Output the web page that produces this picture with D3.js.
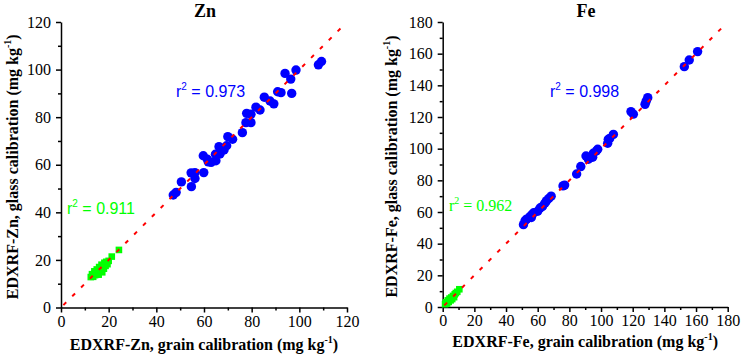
<!DOCTYPE html>
<html>
<head>
<meta charset="UTF-8">
<script src="https://d3js.org/d3.v7.min.js"></script>
<style>
  body { margin: 0; background: #fff; }
  .tick line, .domain { stroke: #000; stroke-width: 1.5; }
</style>
</head>
<body>
<svg id="chart" width="743" height="358"></svg>
<script>
// Zn: grain calibration (x) vs glass calibration (y), mg/kg
const znBlue = [
  [47.1,47.3],[48.3,48.4],[50.5,52.8],[54.7,50.8],[54.6,56.6],[56.2,56.7],[56.2,54.2],
  [59.9,56.7],[59.7,63.8],[61.4,62.3],[61.8,61.2],[63.0,61.0],[65.0,61.7],[64.8,64.4],
  [66.7,64.5],[68.4,66.2],[66.3,67.6],[69.5,68.0],[70.0,71.8],[72.0,70.7],[76.1,73.5],
  [77.6,77.7],[79.7,77.7],[77.9,81.6],[79.7,81.2],[81.8,84.2],[83.5,83.0],[85.3,88.4],
  [87.7,86.8],[89.3,85.6],[90.9,90.7],[92.3,90.3],[94.0,98.4],[96.4,96.0],[96.8,90.0],
  [98.6,99.8],[108.0,102.0],[109.3,103.4]
];
const znGreen = [
  [12.5,12.8],[13.0,14.0],[13.5,12.9],[14.0,15.2],[14.3,13.6],[14.8,14.5],[15.0,16.0],
  [15.5,15.0],[15.8,13.8],[16.0,17.0],[16.3,15.7],[16.8,16.5],[17.0,18.0],[17.3,14.8],
  [17.6,17.0],[18.0,16.3],[18.2,18.8],[18.7,17.5],[19.0,19.2],[19.5,18.2],[20.0,19.6],
  [21.3,21.4],[24.3,24.2]
];
// Fe
const feBlue = [
  [51.0,52.0],[52.0,54.5],[53.0,55.5],[55.0,57.0],[56.5,58.5],[57.5,59.5],[56.0,56.5],
  [60.0,60.5],[61.5,62.5],[63.0,63.5],[64.5,65.5],[65.5,67.0],[67.0,68.5],[68.5,70.0],
  [76.0,76.5],[77.0,77.0],[84.6,84.0],[87.2,88.7],[90.5,95.4],[92.0,93.3],[93.0,94.5],
  [94.7,94.6],[95.1,97.1],[97.0,98.5],[97.9,99.6],[104.2,103.4],[104.6,105.9],[105.5,106.5],
  [107.8,109.0],[118.9,123.4],[120.4,121.8],[127.8,128.0],[128.5,130.0],[129.5,132.2],
  [152.6,151.8],[155.7,156.0],[161.0,161.3]
];
const feGreen = [
  [1.5,1.8],[2.0,3.0],[2.8,2.2],[3.2,4.2],[3.8,3.2],[4.3,5.3],[5.0,4.2],[5.4,6.0],
  [6.0,5.0],[6.5,7.0],[7.2,6.2],[7.6,8.0],[8.3,8.8],[9.2,9.6],[10.5,11.2]
];

const znTicks = [0, 20, 40, 60, 80, 100, 120];
const feTicks = [0, 20, 40, 60, 80, 100, 120, 140, 160, 180];

const znR2 = ["0.973", "0.911"];
const feR2 = ["0.998", "0.962"];

const SERIF = "'Liberation Serif', 'Times New Roman', Times, serif";
const SANS = "'Liberation Sans', Arial, Helvetica, sans-serif";

const panels = [
  { name: "Zn", blue: znBlue, green: znGreen, ticks: znTicks, r2: znR2, lineEnd: 118,
    xr: [61, 347], yr: [307.5, 22], titleX: 205, xlabY: 350, ylabX: 18,
    r2Blue: [176, 97, SANS], r2Green: [67, 214, SANS] },
  { name: "Fe", blue: feBlue, green: feGreen, ticks: feTicks, r2: feR2, lineEnd: 177,
    xr: [442.7, 727.7], yr: [307, 22], titleX: 586, xlabY: 347, ylabX: 397,
    r2Blue: [550, 97, SANS], r2Green: [449, 211, SERIF] }
];

const svg = d3.select("#chart");

panels.forEach(p => {
  const max = p.ticks[p.ticks.length - 1];
  const x = d3.scaleLinear().domain([0, max]).range(p.xr);
  const y = d3.scaleLinear().domain([0, max]).range(p.yr);
  const minor = d3.range(10, max, 20);
  const g = svg.append("g");

  // minor ticks
  g.append("g").attr("transform", `translate(0,${y(0)})`)
    .call(d3.axisBottom(x).tickValues(minor).tickSize(3).tickFormat(""))
    .call(a => a.select(".domain").remove());
  g.append("g").attr("transform", `translate(${x(0)},0)`)
    .call(d3.axisLeft(y).tickValues(minor).tickSize(3).tickFormat(""))
    .call(a => a.select(".domain").remove());

  // major axes
  const ax = g.append("g").attr("transform", `translate(0,${y(0)})`)
    .call(d3.axisBottom(x).tickValues(p.ticks).tickSize(5).tickPadding(3).tickSizeOuter(0));
  const ay = g.append("g").attr("transform", `translate(${x(0)},0)`)
    .call(d3.axisLeft(y).tickValues(p.ticks).tickSize(5).tickPadding(5).tickSizeOuter(0));
  [ax, ay].forEach(a => a.attr("font-family", null).attr("font-size", null)
    .selectAll("text").style("font-family", SERIF).style("font-size", "16px").attr("fill", "#000"));

  // green squares (low concentration samples)
  const s = 6.6;
  g.append("g").selectAll("rect").data(p.green).join("rect")
    .attr("x", d => x(d[0]) - s / 2)
    .attr("y", d => y(d[1]) - s / 2)
    .attr("width", s).attr("height", s)
    .attr("fill", "#00ff00");

  // blue circles
  g.append("g").selectAll("circle").data(p.blue).join("circle")
    .attr("cx", d => x(d[0]))
    .attr("cy", d => y(d[1]))
    .attr("r", 4.7)
    .attr("fill", "#0000ff");

  // 1:1 line
  g.append("line")
    .attr("x1", x(1)).attr("y1", y(1))
    .attr("x2", x(p.lineEnd)).attr("y2", y(p.lineEnd))
    .attr("stroke", "#ff0000").attr("stroke-width", 2)
    .attr("stroke-dasharray", "4,8.5");

  // title
  g.append("text")
    .style("font-family", SERIF).style("font-weight", "bold").style("font-size", "18px")
    .attr("x", p.titleX).attr("y", 17).attr("text-anchor", "middle").text(p.name);

  function label(t, words) {
    t.style("font-family", SERIF).style("font-weight", "bold").style("font-size", "16px")
      .attr("text-anchor", "middle");
    t.append("tspan").text(words + " (mg kg");
    t.append("tspan").attr("dy", -7).style("font-size", "10px").text("-1");
    t.append("tspan").attr("dy", 7).text(")");
  }
  label(g.append("text").attr("x", (p.xr[0] + p.xr[1]) / 2).attr("y", p.xlabY),
    `EDXRF-${p.name}, grain calibration`);
  label(g.append("text")
    .attr("transform", `translate(${p.ylabX},${(p.yr[0] + p.yr[1]) / 2 + 2}) rotate(-90)`),
    `EDXRF-${p.name}, glass calibration`);

  // r2 annotations
  [[p.r2Blue, p.r2[0], "#0000ff"], [p.r2Green, p.r2[1], "#00ff00"]].forEach(([pos, val, col]) => {
    const t = g.append("text").attr("x", pos[0]).attr("y", pos[1])
      .style("font-family", pos[2]).style("font-size", "16px").attr("fill", col);
    t.append("tspan").text("r");
    t.append("tspan").attr("dy", -7).style("font-size", "10px").text("2");
    t.append("tspan").attr("dy", 7).text(" = " + val);
  });
});
</script>
</body>
</html>
